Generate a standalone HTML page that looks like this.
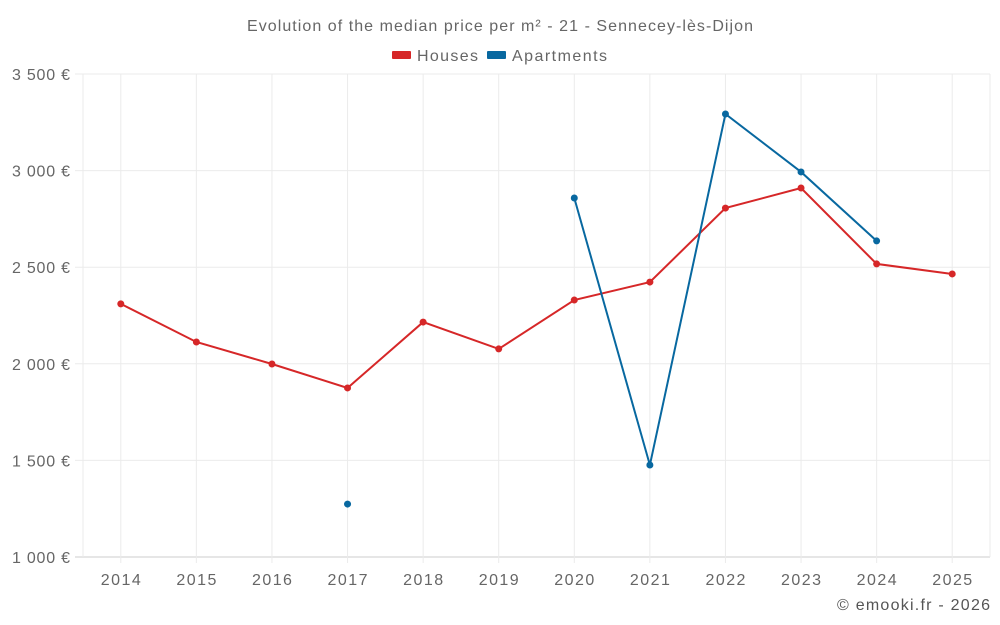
<!DOCTYPE html>
<html><head><meta charset="utf-8"><style>
html,body{margin:0;padding:0;background:#fff;width:1000px;height:625px;overflow:hidden}
text{font-family:"Liberation Sans",sans-serif}
</style></head><body>
<svg id="chart" width="1000" height="625" xmlns="http://www.w3.org/2000/svg">
<text x="500" y="31" text-anchor="middle" font-size="16" fill="#666" textLength="506" lengthAdjust="spacing">Evolution of the median price per m² - 21 - Sennecey-lès-Dijon</text>
<g><rect x="392" y="51" width="19" height="8" rx="1" fill="#d62728"/><text x="417" y="61" font-size="16" fill="#666" textLength="61">Houses</text></g>
<g><rect x="487" y="51" width="19" height="8" rx="1" fill="#0868a0"/><text x="512" y="61" font-size="16" fill="#666" textLength="95">Apartments</text></g>
<g id="grid"></g><g id="axes"></g><g id="series"></g>
<text x="990" y="610" text-anchor="end" font-size="16" fill="#555" textLength="153">© emooki.fr - 2026</text>
</svg>
<script>
const years=["2014","2015","2016","2017","2018","2019","2020","2021","2022","2023","2024","2025"];
const houses=[2310,2113,1999,1875,2216,2077,2330,2423,2806,2910,2517,2465];
const apartments=[null,null,null,1274,null,null,2858,1476,3293,2993,2636,null];
const yTicks=[1000,1500,2000,2500,3000,3500];
const yTickLabels=["1 000 €","1 500 €","2 000 €","2 500 €","3 000 €","3 500 €"];
const NS="http://www.w3.org/2000/svg";
const L=83,R=990,T=74,B=557,ymin=1000,ymax=3500;
const step=(R-L)/years.length;
const x=i=>L+step*(i+0.5);
const y=v=>B-(v-ymin)/(ymax-ymin)*(B-T);
function mk(tag,attrs,parent){const e=document.createElementNS(NS,tag);for(const k in attrs)e.setAttribute(k,attrs[k]);document.getElementById(parent).appendChild(e);return e;}
yTicks.forEach((t,i)=>{
 const l=mk('line',{x1:75,x2:R,y1:y(t),y2:y(t),stroke:i===0?'#ccc':'#ebebeb','stroke-width':1},'grid');
 
 
 const tx=mk('text',{x:70,y:y(t)+6,'text-anchor':'end','font-size':16,fill:'#666',textLength:58},'axes');
 tx.textContent=yTickLabels[i];
 
 
});
[L,R].forEach(v=>{const l=mk('line',{x1:v,x2:v,y1:T,y2:B,stroke:'#ebebeb'},'grid');
 
 });
years.forEach((yr,i)=>{
 const l=mk('line',{x1:x(i),x2:x(i),y1:T,y2:B+6,stroke:'#ebebeb'},'grid');
 
 
 const tx=mk('text',{x:x(i),y:585,'text-anchor':'middle','font-size':16,fill:'#666',textLength:40},'axes');
 tx.textContent=yr;
 
 
});
function draw(data,color,name){
 let d='',pen=false;
 data.forEach((v,i)=>{if(v==null){pen=false;return;}d+=(pen?'L':'M')+x(i)+' '+y(v)+' ';pen=true;});
 const p=mk('path',{d:d,fill:'none',stroke:color,'stroke-width':2},'series');
 
 
 data.forEach((v,i)=>{if(v==null)return;
  const c=mk('circle',{cx:x(i),cy:y(v),r:3.5,fill:color},'series');
  
  });
}
draw(houses,'#d62728','houses');
draw(apartments,'#0868a0','apartments');
</script>
</body></html>
